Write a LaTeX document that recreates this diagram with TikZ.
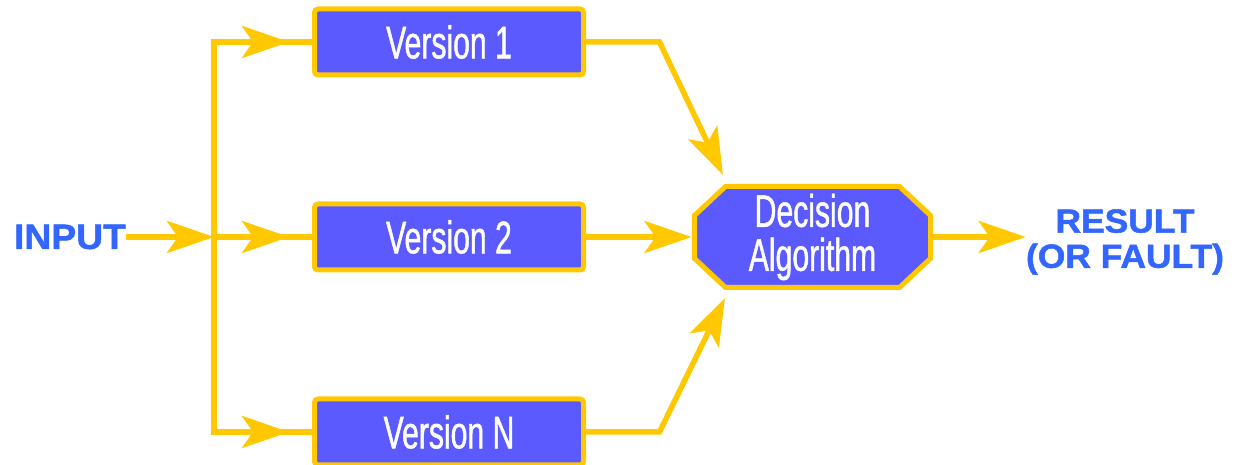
\documentclass[tikz,border=0pt]{standalone}
\usepackage{fontspec}
\usepackage{tikz}
\usetikzlibrary{arrows.meta,positioning,calc,backgrounds,decorations.markings}
\setmainfont{Liberation Sans}
\newfontfamily\boxfont[FakeStretch=0.66,FakeBold=1]{Liberation Sans}
\newfontfamily\tagfont[FakeStretch=1.06,FakeBold=1.5]{Liberation Sans Bold}
\definecolor{cYellow}{RGB}{255,200,0}
\definecolor{cViolet}{RGB}{90,90,255}
\definecolor{cBlueText}{RGB}{51,102,255}
\tikzset{
  basebox/.style={draw=cYellow,line width=0.1cm,fill=cViolet,text=white,
                  align=center,font=\boxfont\fontsize{26}{25}\selectfont},
  verbox/.style={basebox,rectangle,rounded corners=2pt,
                 minimum width=5.38cm,minimum height=1.32cm},
  dectext/.style={rectangle,text=white,align=center,inner sep=0pt,outer sep=0pt,
                  font=\boxfont\fontsize{26}{25}\selectfont,
                  minimum width=4.72cm,minimum height=2.02cm},
  octo/.style={draw=cYellow,line width=0.1cm,fill=cViolet},
  tagtext/.style={text=cBlueText,align=center,inner sep=0pt},
  wire/.style={cYellow,line width=0.11cm},
  arr/.style={wire,-{Stealth[length=0.94cm,width=0.64cm,inset=0.22cm]}},
  midarr/.style={wire,postaction={decorate},
    decoration={markings,mark=at position #1 with
      {\arrow{Stealth[length=0.94cm,width=0.64cm,inset=0.22cm]}}}}
}
\begin{document}
\begin{tikzpicture}
  \useasboundingbox (0,0) rectangle (24.82,9.30);
  \node[verbox] (v2) at (8.98,4.56) {Version 2};
  \node[verbox,above=2.48cm of v2] (v1) {Version 1};
  \node[verbox,below=2.48cm of v2] (vn) {Version N};
  \node[dectext,right=2.17cm of v2] (dec) {Decision\\Algorithm};
  \node[tagtext,font=\tagfont\fontsize{20}{24}\selectfont] (input) at (1.40,4.56) {INPUT};
  \node[tagtext,font=\tagfont\fontsize{19}{20}\selectfont] (result) at (22.50,4.46) {RESULT\\(OR FAULT)};
  \coordinate (split) at (4.28,4.56);
  % octagon behind the decision text
  \begin{pgfonlayer}{background}
    \path[octo] ($(dec.north west)+(0.62,0)$) -- ($(dec.north east)+(-0.62,0)$)
      -- ($(dec.north east)+(0,-0.58)$) -- ($(dec.south east)+(0,0.58)$)
      -- ($(dec.south east)+(-0.62,0)$) -- ($(dec.south west)+(0.62,0)$)
      -- ($(dec.south west)+(0,0.58)$) -- ($(dec.north west)+(0,-0.58)$) -- cycle;
  \end{pgfonlayer}
  % input fans out to every version
  \draw[arr] (input) -- (split);
  \draw[wire,line cap=rect] (split |- v1) -- (split |- vn);
  \foreach \v in {v1,v2,vn}
    \draw[midarr=1.50cm] (split |- \v) -- (\v);
  % every version goes to the decision
  \draw[arr] (v1.east) -- ++(1.47,0) -- ($(dec.north)+(-1.79,0.23)$);
  \draw[arr] (v2) -- ($(dec.west)+(-0.06,0)$);
  \draw[arr] (vn.east) -- ++(1.47,0) -- ($(dec.south)+(-1.75,-0.21)$);
  \draw[arr] (dec) -- (dec.east -| result.west);
\end{tikzpicture}
\end{document}
